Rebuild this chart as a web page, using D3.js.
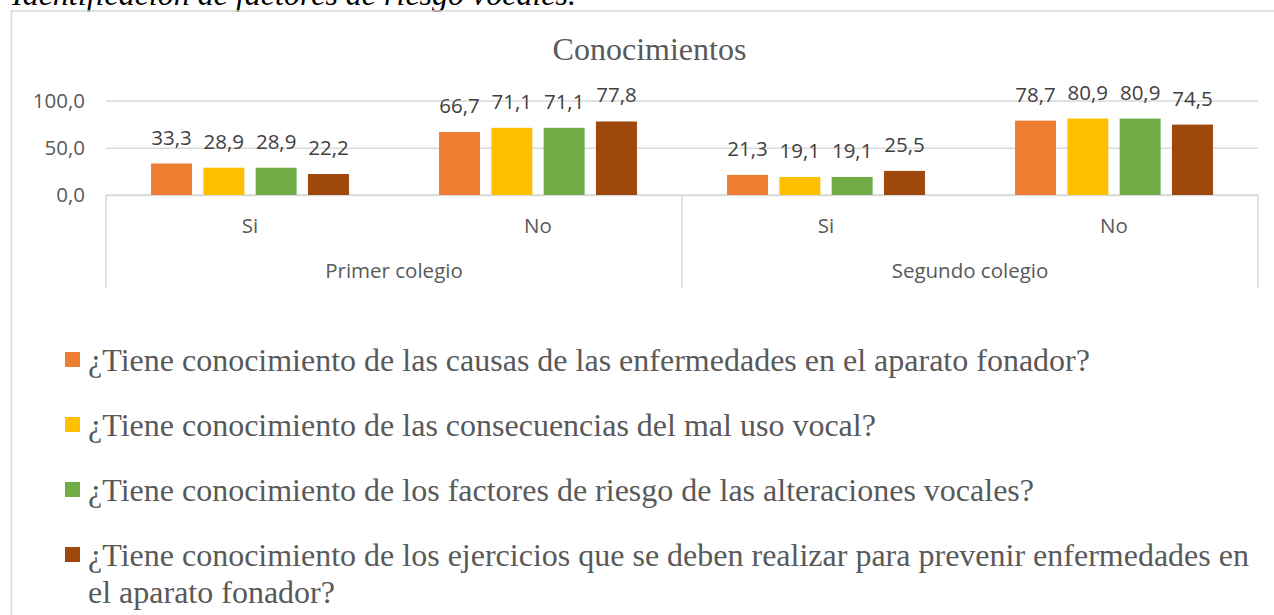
<!DOCTYPE html>
<html>
<head>
<meta charset="utf-8">
<script src="https://cdn.jsdelivr.net/npm/d3@7"></script>
<style>
  html, body { margin: 0; padding: 0; background: #fff; }
  svg { display: block; }
</style>
</head>
<body>
<svg id="chart" width="1274" height="615"></svg>
<script>
// ---------- data ----------
const heading = "Identificación de factores de riesgo vocales.";
const chartTitle = "Conocimientos";
const colleges = ["Primer colegio", "Segundo colegio"];
const answers = ["Si", "No"];
const seriesNames = [
  "¿Tiene conocimiento de las causas de las enfermedades en el aparato fonador?",
  "¿Tiene conocimiento de las consecuencias del mal uso vocal?",
  "¿Tiene conocimiento de los factores de riesgo de las alteraciones vocales?",
  "¿Tiene conocimiento de los ejercicios que se deben realizar para prevenir enfermedades en el aparato fonador?"
];
const seriesColors = ["#ED7D31", "#FFC000", "#70AD47", "#9E480E"];
// values in order: Primer-Si, Primer-No, Segundo-Si, Segundo-No
const causas        = [33.3, 66.7, 21.3, 78.7];
const consecuencias = [28.9, 71.1, 19.1, 80.9];
const factores      = [28.9, 71.1, 19.1, 80.9];
const ejercicios    = [22.2, 77.8, 25.5, 74.5];
const yTicks = [0, 50, 100];

const seriesValues = [causas, consecuencias, factores, ejercicios];

// ---------- setup ----------
const svg = d3.select("#chart");
const locale = d3.formatLocale({decimal: ",", thousands: ".", grouping: [3], currency: ["", ""]});
const fmt = locale.format(".1f");

const sansFont = "'Open Sans', 'DejaVu Sans', sans-serif";
const serifFont = "'Liberation Serif', 'Times New Roman', serif";
const textGray = "#595959";
const gridGray = "#d9d9d9";

const plotLeft = 106, plotRight = 1258, plotTop = 100.5, plotBottom = 195;

const x0 = d3.scaleBand().domain(colleges).range([plotLeft, plotRight]).padding(0);
const x1 = d3.scaleBand().domain(answers).range([0, x0.bandwidth()]).padding(0);
const x2 = d3.scaleBand().domain(d3.range(seriesNames.length))
  .range([0, x1.bandwidth()]).paddingInner(0.216).paddingOuter(0.861);
const y = d3.scaleLinear().domain([0, 100]).range([plotBottom, plotTop]);

// heading (cut off at top)
svg.append("text")
  .attr("x", 12).attr("y", 5)
  .attr("font-family", serifFont).attr("font-style", "italic")
  .attr("font-size", 32).attr("fill", "#000")
  .text(heading);

// chart frame
svg.append("rect")
  .attr("x", 11.5).attr("y", 11).attr("width", 1276).attr("height", 640)
  .attr("fill", "none").attr("stroke", gridGray).attr("stroke-width", 1.5);

// title
svg.append("text")
  .attr("x", 649.5).attr("y", 60).attr("text-anchor", "middle")
  .attr("font-family", serifFont).attr("font-size", 32).attr("fill", textGray)
  .text(chartTitle);

// y axis with gridlines
const yAxis = d3.axisLeft(y).tickValues(yTicks).tickFormat(fmt)
  .tickSize(-(plotRight - plotLeft)).tickPadding(21);
const gy = svg.append("g").attr("transform", `translate(${plotLeft},0)`).call(yAxis);
gy.select(".domain").remove();
gy.selectAll(".tick line").attr("stroke", gridGray).attr("stroke-width", 1.5);
gy.selectAll(".tick text")
  .attr("font-family", sansFont).attr("font-size", 20.5).attr("fill", textGray);

// category axis lines
const axisG = svg.append("g");
axisG.append("line")
  .attr("x1", plotLeft).attr("x2", plotRight)
  .attr("y1", y(0)).attr("y2", y(0))
  .attr("stroke", gridGray).attr("stroke-width", 1.5);
const dividers = [plotLeft].concat(colleges.map(c => x0(c) + x0.bandwidth()));
axisG.selectAll("line.div").data(dividers).enter().append("line")
  .attr("class", "div")
  .attr("x1", d => d).attr("x2", d => d)
  .attr("y1", y(0)).attr("y2", 288)
  .attr("stroke", gridGray).attr("stroke-width", 1.5);

// answer labels
colleges.forEach(c => {
  answers.forEach(a => {
    svg.append("text")
      .attr("x", x0(c) + x1(a) + x1.bandwidth() / 2).attr("y", 233)
      .attr("text-anchor", "middle")
      .attr("font-family", sansFont).attr("font-size", 20.5).attr("fill", textGray)
      .text(a);
  });
  svg.append("text")
    .attr("x", x0(c) + x0.bandwidth() / 2).attr("y", 278)
    .attr("text-anchor", "middle")
    .attr("font-family", sansFont).attr("font-size", 20.5).attr("fill", textGray)
    .text(c);
});

// bars
const cells = [];
colleges.forEach((c, ci) => answers.forEach((a, ai) => {
  const idx = ci * answers.length + ai;
  seriesValues.forEach((vals, si) => {
    cells.push({college: c, answer: a, s: si, v: vals[idx]});
  });
}));

const barG = svg.append("g");
barG.selectAll("rect").data(cells).enter().append("rect")
  .attr("x", d => x0(d.college) + x1(d.answer) + x2(d.s))
  .attr("y", d => y(d.v))
  .attr("width", x2.bandwidth())
  .attr("height", d => y(0) - y(d.v))
  .attr("fill", d => seriesColors[d.s]);

barG.selectAll("text").data(cells).enter().append("text")
  .attr("x", d => x0(d.college) + x1(d.answer) + x2(d.s) + x2.bandwidth() / 2)
  .attr("y", d => y(d.v) - 19)
  .attr("text-anchor", "middle")
  .attr("font-family", sansFont).attr("font-size", 20.5).attr("fill", "#404040")
  .text(d => fmt(d.v));

// legend
const legendX = 65, legendTextX = 88, legendTop = 371, legendStep = 65, lineH = 36.5;
const maxTextW = 1172;
const legendG = svg.append("g");
seriesNames.forEach((name, i) => {
  const base = legendTop + i * legendStep;
  legendG.append("rect")
    .attr("x", legendX).attr("y", base - 19).attr("width", 15).attr("height", 15)
    .attr("fill", seriesColors[i]);
  const t = legendG.append("text")
    .attr("x", legendTextX).attr("y", base)
    .attr("font-family", serifFont).attr("font-size", 32).attr("fill", textGray);
  // wrap words by measured width
  const words = name.split(" ");
  let line = [];
  let tspan = t.append("tspan").attr("x", legendTextX).attr("y", base);
  let lineNo = 0;
  words.forEach(w => {
    line.push(w);
    tspan.text(line.join(" "));
    if (tspan.node().getComputedTextLength() > maxTextW && line.length > 1) {
      line.pop();
      tspan.text(line.join(" "));
      line = [w];
      lineNo++;
      tspan = t.append("tspan").attr("x", legendTextX).attr("y", base + lineNo * lineH).text(w);
    }
  });
});
</script>
</body>
</html>
